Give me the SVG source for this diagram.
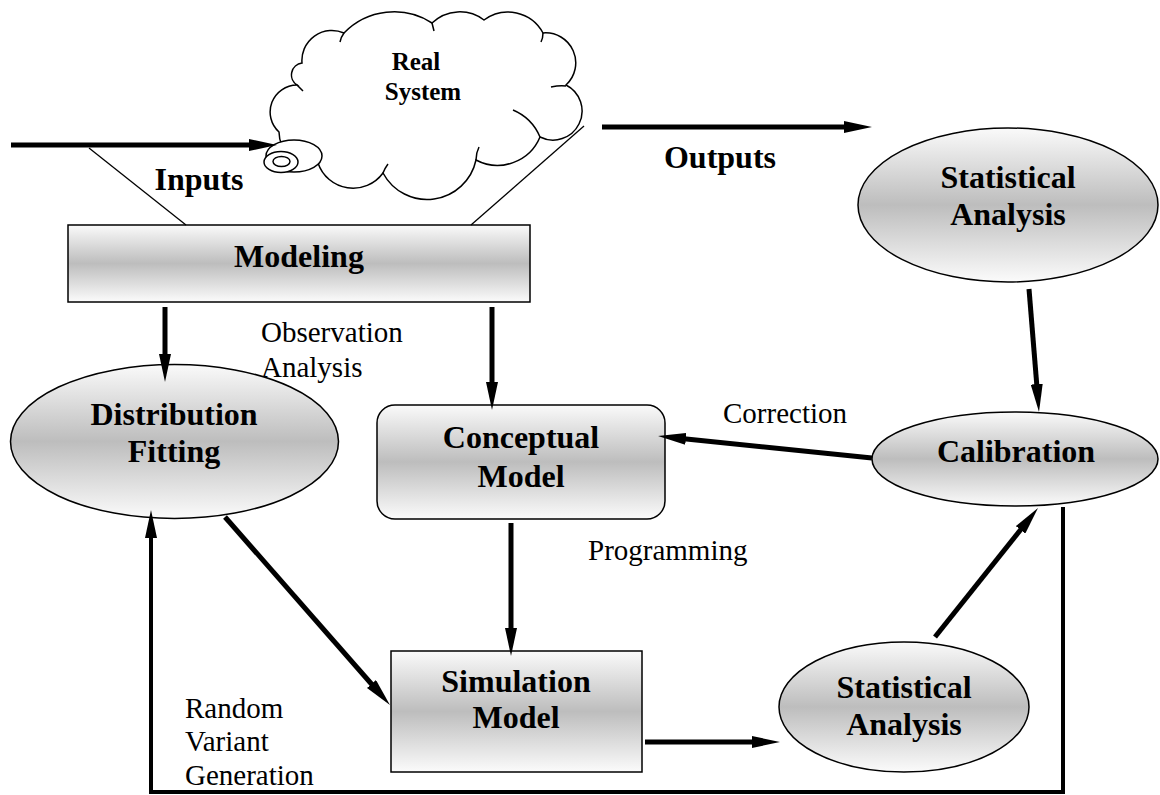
<svg xmlns="http://www.w3.org/2000/svg" width="1160" height="795" viewBox="0 0 1160 795">
<defs>
<linearGradient id="g" x1="0" y1="0" x2="0" y2="1">
<stop offset="0" stop-color="#fafafa"/>
<stop offset="0.5" stop-color="#bdbdbd"/>
<stop offset="1" stop-color="#fbfbfb"/>
</linearGradient>
<marker id="ah" markerUnits="userSpaceOnUse" markerWidth="30" markerHeight="12" refX="2" refY="6" orient="auto">
<path d="M0,0 L28,6 L0,12 Z" fill="#000"/>
</marker>
<style>
.node{fill:url(#g);stroke:#000;stroke-width:1.5}
.b{font-family:"Liberation Serif","Times New Roman",serif;font-weight:bold;font-size:32px;fill:#000;text-anchor:middle}
.r{font-family:"Liberation Serif","Times New Roman",serif;font-size:29px;fill:#000}
.c{fill:none;stroke:#000;stroke-width:5;marker-end:url(#ah)}
.thin{fill:none;stroke:#000;stroke-width:1.3}
</style>
</defs>
<rect width="1160" height="795" fill="#fff"/>

<g id="real-system">
<path d="M302,63 A30,30 0 0 1 344,33 A70,70 0 0 1 432,23 A40,40 0 0 1 484,20 A40,40 0 0 1 543,33 A30,30 0 0 1 566,85 A29,29 0 0 1 540,137 A46,46 0 0 1 476,160 A50,50 0 0 1 383,173 A37,37 0 0 1 318,163 A32,32 0 0 1 279,132 A27,27 0 0 1 297,85 A12,12 0 0 1 302,63 Z" fill="#fff" stroke="#000" stroke-width="1.5"/>
<path d="M566,86 Q560,85 551,87 M540,137 Q532,118 513,110 M476,160 Q476,153 479,147 M344,33 Q341,37 340,42 M432,23 Q433,27 434,31 M543,33 Q543,38 541,42 M297,85 Q300,88 303,91 M383,173 Q385,168 388,164" fill="none" stroke="#000" stroke-width="1.5"/>
<ellipse cx="294" cy="156" rx="28" ry="16" fill="#fff" stroke="#000" stroke-width="1.5"/>
<ellipse cx="281" cy="162" rx="17" ry="10.5" fill="#fff" stroke="#000" stroke-width="1.5"/>
<ellipse cx="281.5" cy="161.5" rx="8.5" ry="5" fill="#fff" stroke="#000" stroke-width="1.5"/>
<text class="b" style="font-size:25px" x="416" y="70">Real</text>
<text class="b" style="font-size:25px" x="423" y="100">System</text>
</g>

<g id="modeling">
<rect class="node" x="68" y="225" width="462" height="77"/>
<text class="b" x="299" y="267">Modeling</text>
</g>

<g id="stat-top">
<ellipse class="node" cx="1008" cy="205" rx="150" ry="77"/>
<text class="b" x="1008" y="188">Statistical</text>
<text class="b" x="1008" y="225">Analysis</text>
</g>

<g id="distribution-fitting">
<ellipse class="node" cx="174.5" cy="441.5" rx="164" ry="77"/>
<text class="b" x="174" y="425">Distribution</text>
<text class="b" x="174" y="462">Fitting</text>
</g>

<g id="conceptual-model">
<rect class="node" x="377" y="405" width="288" height="114" rx="18" ry="18"/>
<text class="b" x="521" y="448">Conceptual</text>
<text class="b" x="521" y="487">Model</text>
</g>

<g id="calibration">
<ellipse class="node" cx="1015" cy="459" rx="143" ry="47"/>
<text class="b" x="1016" y="462">Calibration</text>
</g>

<g id="simulation-model">
<rect class="node" x="391" y="651" width="251" height="121"/>
<text class="b" x="516" y="692">Simulation</text>
<text class="b" x="516" y="728">Model</text>
</g>

<g id="stat-bottom">
<ellipse class="node" cx="904" cy="707" rx="125" ry="65"/>
<text class="b" x="904" y="698">Statistical</text>
<text class="b" x="904" y="735">Analysis</text>
</g>

<g id="connectors">
<line class="thin" x1="89" y1="148" x2="186" y2="225"/>
<line class="thin" x1="471" y1="225" x2="584" y2="126"/>
<line class="c" x1="11" y1="145" x2="251" y2="145"/>
<line class="c" x1="602" y1="127" x2="846" y2="127"/>
<line class="c" x1="165" y1="307" x2="165" y2="356"/>
<line class="c" x1="492" y1="307" x2="492" y2="384"/>
<line class="c" x1="511" y1="523" x2="511" y2="630"/>
<line class="c" x1="225" y1="517" x2="372.8" y2="685.5"/>
<line class="c" x1="645" y1="742" x2="754" y2="742"/>
<line class="c" x1="935" y1="637" x2="1021.8" y2="528.3"/>
<line class="c" x1="1029" y1="289" x2="1036.9" y2="386.1"/>
<line class="c" x1="872" y1="458" x2="683.9" y2="438.7"/>
<polyline class="c" style="stroke-width:4" points="1063,507 1063,792 151,792 151,536"/>
</g>

<g id="labels">
<text class="b" x="199" y="190">Inputs</text>
<text class="b" x="720" y="168">Outputs</text>
<text class="r" x="261" y="342">Observation</text>
<text class="r" x="261" y="377">Analysis</text>
<text class="r" x="723" y="423">Correction</text>
<text class="r" x="588" y="560">Programming</text>
<text class="r" x="185" y="718">Random</text>
<text class="r" x="185" y="751">Variant</text>
<text class="r" x="185" y="785">Generation</text>
</g>
</svg>
